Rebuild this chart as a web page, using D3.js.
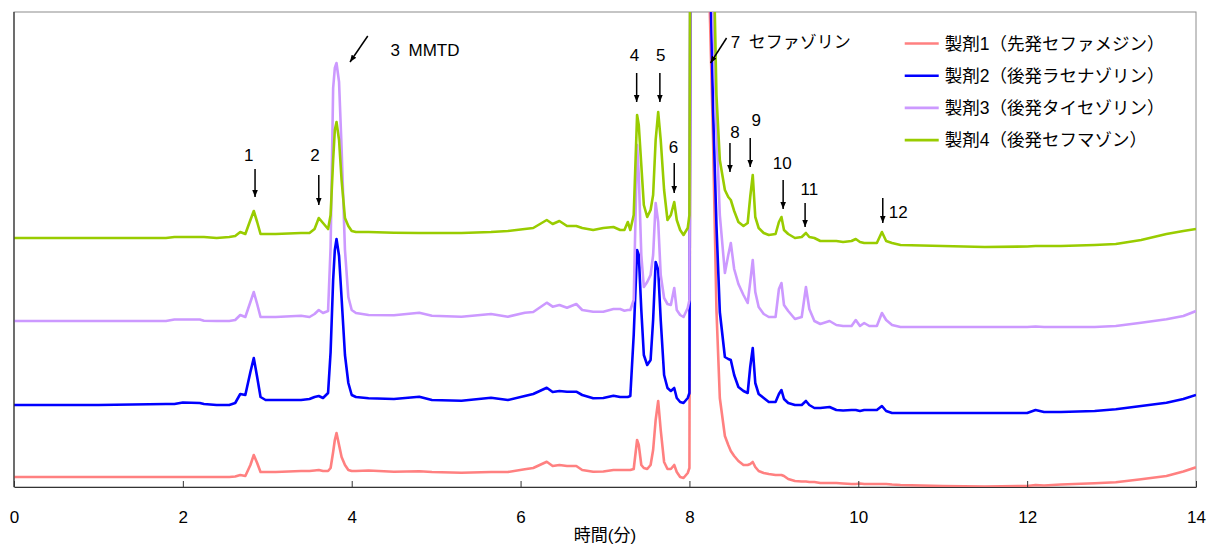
<!DOCTYPE html>
<html>
<head>
<meta charset="utf-8">
<script src="https://cdn.jsdelivr.net/npm/d3@7"></script>
<style>
  body { margin: 0; background: #fff; }
  svg { display: block; font-family: "Liberation Sans", "Noto Sans CJK JP", sans-serif; }
</style>
</head>
<body>
<script>
// 保持時間（分）
const tiempo = [0, 1.00, 1.80, 1.90, 2.00, 2.20, 2.25, 2.40, 2.55, 2.62,
  2.68, 2.74, 2.80, 2.84, 2.88, 2.92, 2.98, 3.10, 3.40, 3.50,
  3.56, 3.61, 3.66, 3.72, 3.75, 3.78, 3.80, 3.82, 3.85, 3.88,
  3.92, 3.96, 4.00, 4.05, 4.20, 4.50, 4.80, 4.95, 5.30, 5.65,
  5.85, 6.05, 6.15, 6.31, 6.38, 6.46, 6.55, 6.66, 6.73, 6.86,
  6.98, 7.10, 7.18, 7.23, 7.27, 7.30, 7.34, 7.38, 7.40, 7.43,
  7.46, 7.50, 7.54, 7.57, 7.60, 7.63, 7.66, 7.70, 7.74, 7.78,
  7.82, 7.85, 7.89, 7.93, 7.98, 8.00, 8.02, 8.10, 8.20, 8.24,
  8.28, 8.32, 8.36, 8.42, 8.46, 8.49, 8.53, 8.58, 8.64, 8.69,
  8.72, 8.75, 8.78, 8.82, 8.88, 8.94, 9.02, 9.06, 9.09, 9.12,
  9.17, 9.25, 9.33, 9.38, 9.42, 9.48, 9.55, 9.66, 9.74, 9.82,
  9.92, 9.97, 10.02, 10.07, 10.13, 10.22, 10.28, 10.33, 10.40, 10.50,
  11.00, 11.50, 12.00, 12.10, 12.20, 12.40, 12.80, 13.05, 13.35, 13.65,
  13.85, 14.00];

// シグナル（オフセット込み）
const seizai1 = [10, 10, 10, 10, 10, 10, 10, 10, 10, 10.5,
  12, 11, 22, 32, 24, 15, 15, 15, 16, 16,
  16.5, 17, 16, 16, 19, 35, 47, 54, 42, 30,
  22, 17, 16, 16, 16.5, 15.3, 15.7, 15, 14.3, 15,
  15, 17.7, 19, 25.3, 21, 22, 21, 21, 17, 15.3,
  15.5, 17, 17, 17, 17, 17, 18, 47, 42, 22,
  19, 18, 22, 37, 67, 86, 57, 25, 18, 18,
  22, 15, 10, 9, 14, 19, 900, 3000, 700, 480,
  347, 177, 89, 51, 42, 36, 31, 26, 22, 22,
  23, 25, 20, 16, 14, 13, 12, 12, 12, 11,
  8, 6, 5.5, 5.5, 5, 5, 4, 4, 4, 3.5,
  3, 3, 3.5, 3, 3, 3, 3, 3, 2.5, 2,
  1, 0.5, 1, 2, 1.5, 2.5, 3.7, 4.7, 7.7, 11,
  15.5, 19.7];

const seizai2 = [82, 82, 83, 83, 84.5, 84, 83, 82, 82, 84,
  93, 92, 115, 129, 110, 90, 87, 87, 87, 88,
  90, 91, 89, 94, 135, 207, 237, 248, 231, 189,
  132, 104, 92, 90, 88.7, 88, 90.3, 87, 86.3, 89.3,
  87, 91, 93, 99.3, 95, 96, 95.3, 95.3, 92, 88.7,
  89, 91.3, 90, 90, 90, 91, 152, 237, 232, 177,
  132, 122, 127, 167, 225, 217, 167, 112, 99, 96,
  99, 89, 85, 84, 89, 94, 900, 3000, 800, 540,
  377, 262, 175, 130, 128, 127, 112, 100, 96, 94,
  120, 139, 104, 93, 89, 85, 85, 93, 97, 88,
  84, 82, 82, 86, 82, 79, 79, 80, 77, 76.5,
  77, 77, 76, 77, 77, 77, 81, 76, 74, 74,
  74, 74, 74, 77, 75, 75, 76, 77.7, 81, 84.3,
  88, 92];

const seizai3 = [166, 166, 166, 167.5, 167.5, 167.5, 166.3, 166, 166, 167,
  172, 170, 185, 195, 183, 170, 170, 170, 171.3, 170,
  173, 177, 174, 176, 240, 399, 419, 424, 405, 339,
  237, 190, 177, 174, 172, 171.7, 174.3, 171.3, 170.3, 173,
  170.3, 174.3, 175, 184.3, 180.3, 182, 179.3, 183, 177, 175.3,
  175.3, 178, 178, 176.3, 177, 177, 187, 342, 312, 232,
  200, 205, 212, 232, 284, 265, 212, 189, 183, 182,
  199, 177, 172, 170, 179, 187, 900, 3000, 900, 640,
  480, 357, 272, 214, 232, 244, 218, 203, 192, 184,
  205, 227, 195, 180, 173, 170, 170, 198, 204, 182,
  176, 168, 170, 200, 178, 166, 163, 166, 162, 161,
  161, 167, 161, 164, 161, 161, 174, 167, 162, 160,
  160, 160, 160, 160.5, 160, 160, 160, 161, 164.3, 167.7,
  171, 176];

const seizai4 = [249, 249, 249, 250, 250, 250, 250, 249, 250, 251,
  255, 253, 267, 276, 265, 253, 253, 253, 254, 254,
  258, 269, 264, 258, 272, 327, 357, 365, 347, 307,
  269, 261, 256, 255, 255, 254.3, 254, 254, 254, 255,
  256, 258, 259, 267, 263, 266, 261, 261, 259, 257,
  259, 260, 257, 257, 265, 257, 272, 372, 362, 322,
  282, 270, 277, 292, 347, 375, 347, 297, 267, 272,
  285, 267, 257, 252, 259, 272, 900, 3000, 1000, 760,
  560, 392, 327, 297, 290, 287, 276, 265, 261, 264,
  290, 312, 270, 259, 254, 252, 253, 265, 270, 257,
  253, 249, 250, 254, 250, 249, 246, 246, 246, 245,
  246, 248, 245, 244, 244, 244, 255, 246, 244, 242,
  241, 240, 240.5, 241, 241, 241, 242, 243, 247, 253,
  256, 258];

const nombres = ["製剤1（先発セファメジン）", "製剤2（後発ラセナゾリン）",
                 "製剤3（後発タイセゾリン）", "製剤4（後発セフマゾン）"];
const colores = ["#FF8080", "#0000FF", "#CC99FF", "#99CC00"];
const ticksX = [0, 2, 4, 6, 8, 10, 12, 14];

// ピーク番号の注記（時間・シグナル単位）
const notaTexto = ["1", "2", "3\u2002MMTD", "4", "5", "6", "7\u2002セファゾリン", "8", "9", "10", "11", "12"];
const notaT = [2.78, 3.565, 4.46, 7.35, 7.66, 7.81, 8.49, 8.54, 8.79, 9.10, 9.42, 10.36];
const notaV = [332, 332, 437, 432, 432, 340, 445, 355, 367, 324, 298, 275];
const flechaT1 = [2.855, 3.61, 4.19, 7.375, 7.65, 7.82, 8.44, 8.48, 8.72, 9.11, 9.37, 10.29];
const flechaV1 = [318, 312, 451, 414, 414, 324, 449, 344, 349, 307, 284, 289];
const flechaT2 = [2.855, 3.61, 3.98, 7.375, 7.65, 7.82, 8.25, 8.48, 8.72, 9.11, 9.37, 10.29];
const flechaV2 = [290, 282, 425, 385, 385, 294, 424, 315, 320, 278, 260, 264];

var margin = {top: 12, right: 12, bottom: 60, left: 14},
    width = 1208 - margin.left - margin.right,
    height = 547 - margin.top - margin.bottom;

var svg = d3.select("body").append("svg")
    .attr("width", 1208)
    .attr("height", 547)
  .append("g")
    .attr("transform", "translate(" + margin.left + "," + margin.top + ")");

var x = d3.scaleLinear().domain([0, 14]).range([0, width]);
var y = d3.scaleLinear().domain([0, 475]).range([height, 0]);

svg.append("clipPath").attr("id", "zona")
  .append("rect").attr("width", width).attr("height", height);

// marco gris
svg.append("rect")
    .attr("width", width).attr("height", height)
    .attr("fill", "none").attr("stroke", "#8c8c8c").attr("stroke-width", 1);

// lineas
var series = [seizai1, seizai2, seizai3, seizai4];
var linea = d3.line()
    .x(function(d, i) { return x(tiempo[i]); })
    .y(function(d) { return y(d); });

svg.append("g").attr("clip-path", "url(#zona)")
  .selectAll("path")
  .data(series)
  .enter().append("path")
    .attr("fill", "none")
    .attr("stroke", function(d, i) { return colores[i]; })
    .attr("stroke-width", 2.6)
    .attr("stroke-linejoin", "round")
    .attr("d", linea);

// ejes
svg.append("line")
    .attr("x1", 0).attr("x2", 0).attr("y1", 0).attr("y2", height)
    .attr("stroke", "#333").attr("stroke-width", 1.2);

var ejeX = svg.append("g")
    .attr("transform", "translate(0," + height + ")")
    .call(d3.axisBottom(x).tickValues(ticksX).tickFormat(d3.format("d"))
          .tickSizeInner(-6).tickSizeOuter(0).tickPadding(24));
ejeX.select(".domain").attr("stroke", "#333").attr("stroke-width", 1.2);
ejeX.selectAll(".tick line").attr("stroke", "#333");
ejeX.selectAll("text").attr("font-size", 17).attr("fill", "#000")
    .attr("font-family", "Liberation Sans, sans-serif");

svg.append("text")
    .attr("x", x(7)).attr("y", height + 54)
    .attr("text-anchor", "middle")
    .attr("font-size", 17)
    .text("時間(分)");

// flechas
svg.append("defs").append("marker")
    .attr("id", "punta")
    .attr("viewBox", "0 0 10 10")
    .attr("refX", 10).attr("refY", 5)
    .attr("markerWidth", 7).attr("markerHeight", 7)
    .attr("markerUnits", "userSpaceOnUse")
    .attr("orient", "auto")
  .append("path").attr("d", "M0,1 L10,5 L0,9 Z").attr("fill", "#000");

svg.append("g").selectAll("line")
  .data(notaTexto)
  .enter().append("line")
    .attr("x1", function(d, i) { return x(flechaT1[i]); })
    .attr("y1", function(d, i) { return y(flechaV1[i]); })
    .attr("x2", function(d, i) { return x(flechaT2[i]); })
    .attr("y2", function(d, i) { return y(flechaV2[i]); })
    .attr("stroke", "#000").attr("stroke-width", 1.5)
    .attr("marker-end", "url(#punta)");

svg.append("g").selectAll("text")
  .data(notaTexto)
  .enter().append("text")
    .attr("x", function(d, i) { return x(notaT[i]); })
    .attr("y", function(d, i) { return y(notaV[i]); })
    .attr("dy", "0.36em")
    .attr("text-anchor", function(d) { return (d.length > 2 || d === "12") ? "start" : "middle"; })
    .attr("font-size", 17)
    .text(function(d) { return d; });

// leyenda
var leyenda = svg.append("g").selectAll("g")
  .data(nombres)
  .enter().append("g")
    .attr("transform", function(d, i) { return "translate(" + (x(10.55)) + "," + (31.5 + i * 32.2) + ")"; });

leyenda.append("line")
    .attr("x1", 0).attr("x2", 34)
    .attr("stroke", function(d, i) { return colores[i]; })
    .attr("stroke-width", 2.6);

leyenda.append("text")
    .attr("x", 40).attr("dy", "0.36em")
    .attr("font-size", 17.5)
    .text(function(d) { return d; });
</script>
</body>
</html>
